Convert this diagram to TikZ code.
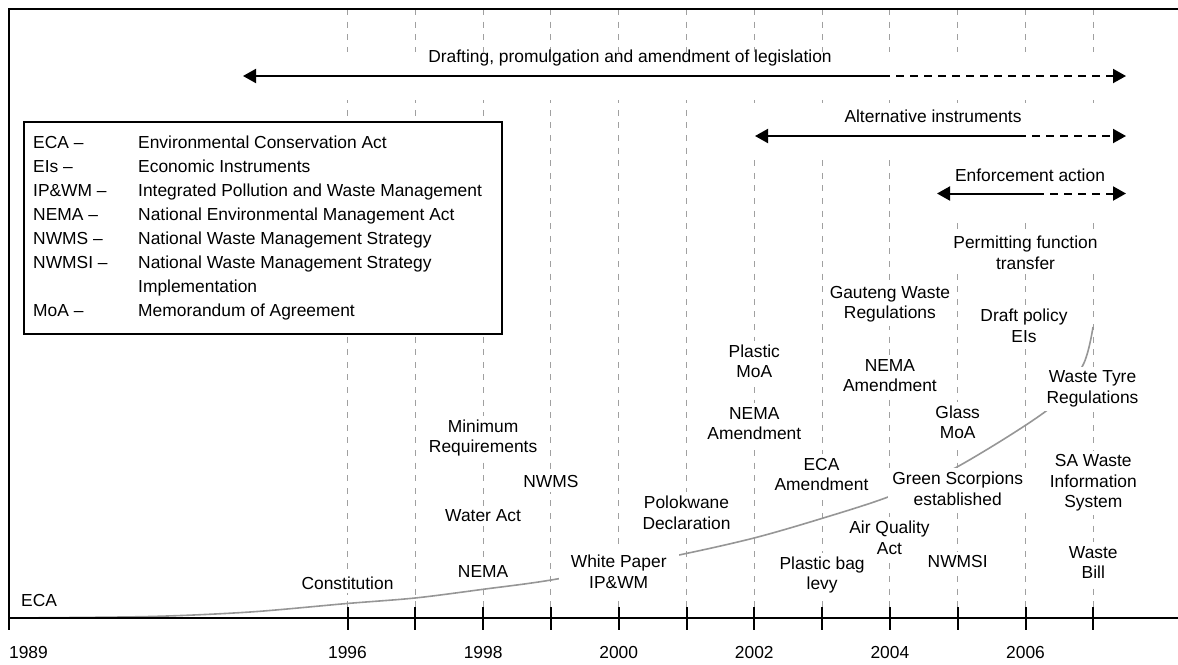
\documentclass[tikz,border=0pt]{standalone}
\usepackage{fontspec}
\setmainfont{Liberation Sans}
\usetikzlibrary{arrows.meta}
\definecolor{gridgray}{RGB}{160,160,160}
\definecolor{curvegray}{RGB}{150,150,150}
\tikzset{
  gridline/.style={gridgray, line width=1.1pt, dash pattern=on 6pt off 6.6pt},
  frameline/.style={black, line width=1.6pt},
  axisline/.style={black, line width=2pt},
  tickline/.style={black, line width=2pt},
  trend/.style={curvegray, line width=1.6pt},
  lbl/.style={fill=white, inner xsep=4pt, inner ysep=4pt, align=center, anchor=center},
  toplbl/.style={inner sep=0pt, anchor=center},
  yearlbl/.style={inner sep=0pt, anchor=center},
  band/.style={fill=white, inner sep=0pt, draw=none},
  arrsolid/.style={black, line width=2pt, {Triangle[length=13pt,width=14pt]}-},
  arrdash/.style={black, line width=2pt, dash pattern=on 8pt off 6pt, -{Triangle[length=13pt,width=14pt]}},
  legendbox/.style={draw=black, line width=1.6pt, fill=white, inner sep=0pt},
  legtext/.style={anchor=base west, inner sep=0pt},
}
\begin{document}
\begin{tikzpicture}[x=1pt,y=-1pt, font=\fontsize{17.4}{20.5}\selectfont]
\useasboundingbox (0,0) rectangle (1178,664);
% grid lines
\foreach \yr/\x in {1996/347.5,1997/415.3,1998/483.1,1999/550.9,2000/618.7,2001/686.5,2002/754.3,2003/822.1,2004/889.9,2005/957.7,2006/1025.5,2007/1093.3}{
  \coordinate (gt\yr) at (\x,9);
  \coordinate (gb\yr) at (\x,618);
  \draw[gridline] (gt\yr) -- (gb\yr);
}
% trend curve
\draw[trend] plot[smooth, tension=0.5] coordinates {(9,618) (150,616.5) (250,612) (347,603.5) (415,598) (483,589.3) (557,579) (679,555) (754,538) (820,519) (888,497) (957,467) (1050,408) (1083,365) (1093,327)};
% white bands behind arrows
\node[band, minimum width=892pt, minimum height=48pt] (bandD) at (686,76) {};
\node[band, minimum width=380pt, minimum height=46pt] (bandA) at (942,133) {};
\node[band, minimum width=198pt, minimum height=64pt] (bandE) at (1033,188) {};
% arrow labels
\node[toplbl] (tD) at (630,58) {Drafting, promulgation and amendment of legislation};
\node[toplbl] (tA) at (933,116) {Alternative instruments};
\node[toplbl] (tE) at (1030,175.5) {Enforcement action};
% arrows
\coordinate (dL) at (243,76); \coordinate (dM) at (882,76); \coordinate (dR) at (1126,76);
\draw[arrsolid] (dL) -- (dM);
\draw[arrdash] (dM) -- (dR);
\coordinate (aL) at (755,136); \coordinate (aM) at (1018,136); \coordinate (aR) at (1126,136);
\draw[arrsolid] (aL) -- (aM);
\draw[arrdash] (aM) -- (aR);
\coordinate (eL) at (937,193.5); \coordinate (eM) at (1036,193.5); \coordinate (eR) at (1126,193.5);
\draw[arrsolid] (eL) -- (eM);
\draw[arrdash] (eM) -- (eR);
% event labels
\node[lbl, anchor=west, inner sep=0pt] (eca) at (21,601) {ECA};
\node[lbl] (const) at (347.5,583) {Constitution};
\node[lbl] (nema98) at (483.1,572) {NEMA};
\node[lbl] (water) at (483.1,516) {Water Act};
\node[lbl] (minreq) at (483.1,438) {Minimum\\Requirements};
\node[lbl] (nwms) at (550.9,482) {NWMS};
\node[lbl, inner xsep=12pt, inner ysep=8pt] (wp) at (618.7,572) {White Paper\\IP\&WM};
\node[lbl] (polo) at (686.5,513) {Polokwane\\Declaration};
\node[lbl] (pmoa) at (754.3,361.5) {Plastic\\MoA};
\node[lbl] (nema02) at (754.3,423.5) {NEMA\\Amendment};
\node[lbl] (eca03) at (821.5,474.5) {ECA\\Amendment};
\node[lbl] (bag) at (822.1,575) {Plastic bag\\levy};
\node[lbl] (gaut) at (889.9,304) {Gauteng Waste\\Regulations};
\node[lbl] (nema04) at (889.9,375.5) {NEMA\\Amendment};
\node[lbl] (air) at (889.5,538) {Air Quality\\Act};
\node[lbl] (green) at (957.7,489) {Green Scorpions\\established};
\node[lbl] (glass) at (957.7,422.5) {Glass\\MoA};
\node[lbl] (nwmsi) at (957.7,562) {NWMSI};
\node[lbl] (permit) at (1025.5,253) {Permitting function\\transfer};
\node[lbl] (draft) at (1024,326) {Draft policy\\EIs};
\node[lbl] (tyre) at (1092.5,389) {Waste Tyre\\Regulations};
\node[lbl] (sawis) at (1093.3,483) {SA Waste\\Information\\System};
\node[lbl] (bill) at (1093.3,562.5) {Waste\\Bill};
% legend
\node[legendbox, minimum width=478pt, minimum height=212pt] (legend) at (263,228) {};
\foreach \i/\ab/\desc in {0/ECA --/Environmental Conservation Act,
  1/EIs --/Economic Instruments,
  2/IP\&WM --/Integrated Pollution and Waste Management,
  3/NEMA --/National Environmental Management Act,
  4/NWMS --/National Waste Management Strategy,
  5/NWMSI --/National Waste Management Strategy,
  6//Implementation,
  7/MoA --/Memorandum of Agreement}{
  \node[legtext] (lab\i) at (33,148.2+24*\i) {\ab};
  \node[legtext] (ldesc\i) at (138,148.2+24*\i) {\desc};
}
% frame and axis
\coordinate (fTL) at (9,9); \coordinate (fTR) at (1178,9);
\coordinate (fBL) at (9,618); \coordinate (fBR) at (1178,618);
\draw[frameline] (fBL) -- (fTL) -- (fTR);
\draw[axisline] (fBL) -- (fBR);
\foreach \x in {9,347.5,415.3,483.1,550.9,618.7,686.5,754.3,822.1,889.9,957.7,1025.5,1093.3}{
  \draw[tickline] (\x,607) -- (\x,630);
}
% year labels
\node[yearlbl] (y1989) at (28.5,653) {1989};
\node[yearlbl] (y1996) at (347.5,653) {1996};
\node[yearlbl] (y1998) at (483.1,653) {1998};
\node[yearlbl] (y2000) at (618.7,653) {2000};
\node[yearlbl] (y2002) at (754.3,653) {2002};
\node[yearlbl] (y2004) at (889.9,653) {2004};
\node[yearlbl] (y2006) at (1025.5,653) {2006};
\end{tikzpicture}
\end{document}
